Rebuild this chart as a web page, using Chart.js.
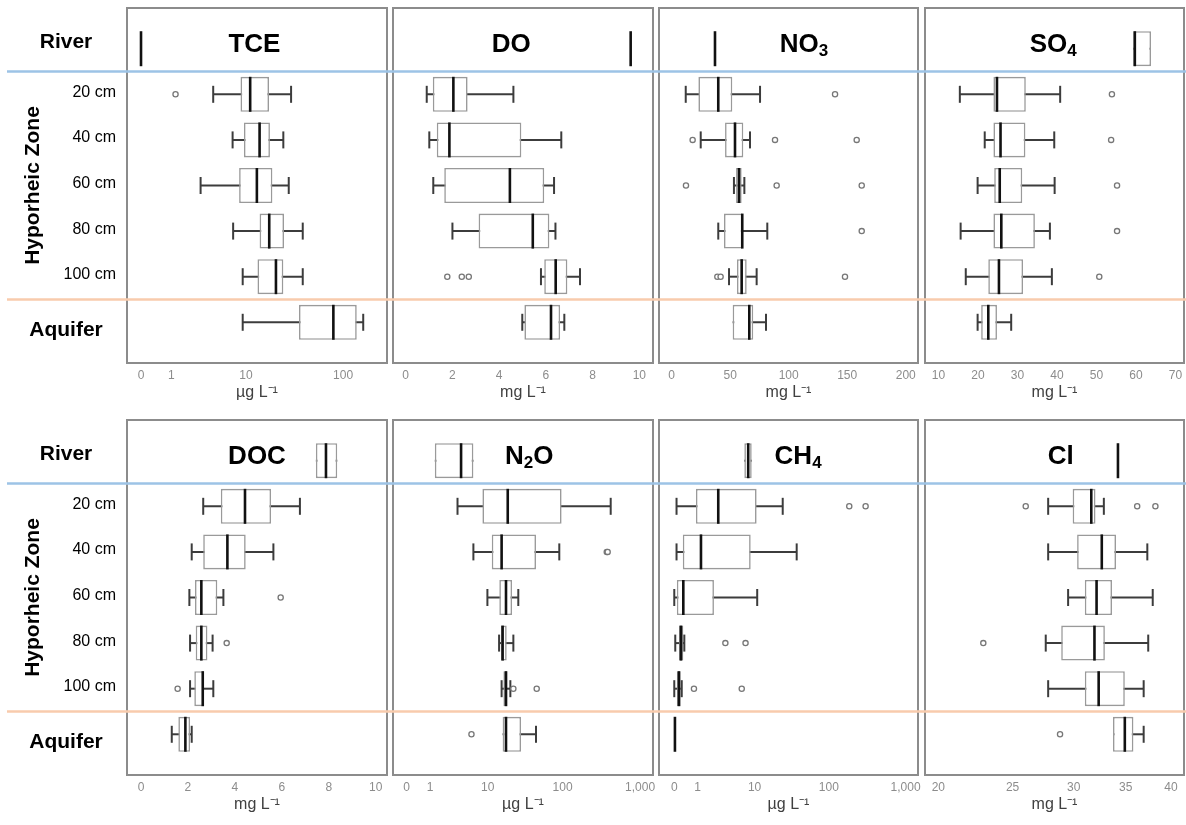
<!DOCTYPE html>
<html>
<head>
  <meta charset="UTF-8">
  <title>Hyporheic zone box plots</title>
  <script src="https://cdn.jsdelivr.net/npm/chart.js"></script>
  <style>
    body { margin: 0; background: #fff; }
    #wrap { position: relative; width: 1186px; height: 825px; overflow: hidden; }
    .cell { position: absolute; }
  </style>
</head>
<body>
  <div id="wrap"></div>

  <script>
    // rows, top to bottom
    var rowNames = ['River', '20 cm', '40 cm', '60 cm', '80 cm', '100 cm', 'Aquifer'];

    // each row: [lower whisker, Q1, median, Q3, upper whisker]
    var tceStats = [[0, 0, 0, 0, 0], [4.2, 8.7, 11.1, 17.6, 29.8], [7.1, 9.5, 14.0, 18.0, 24.8], [2.9, 8.4, 13.1, 19.1, 28.2], [7.2, 14.0, 17.7, 25.2, 39.2], [9.2, 13.3, 20.8, 24.8, 39.2], [9.2, 35.9, 79.9, 137, 159]];
    var tceOutliers = [[], [1.2], [], [], [], [], []];
    var tceTicks = [0, 1, 10, 100];
    var tceTickLabels = ['0', '1', '10', '100'];

    var doStats = [[9.63, 9.63, 9.63, 9.63, 9.63], [0.90, 1.16, 2.04, 2.65, 4.61], [1.01, 1.33, 1.87, 4.95, 6.66], [1.18, 1.65, 4.46, 5.93, 6.35], [2.0, 3.12, 5.44, 6.15, 6.41], [5.79, 5.93, 6.42, 6.92, 7.46], [4.99, 5.08, 6.22, 6.61, 6.79]];
    var doOutliers = [[], [], [], [], [], [1.78, 2.40, 2.70], []];
    var doTicks = [0, 2, 4, 6, 8, 10];
    var doTickLabels = ['0', '2', '4', '6', '8', '10'];

    var no3Stats = [[37, 37, 37, 37, 37], [12.0, 22.8, 39.8, 51.8, 75.5], [24.8, 45.6, 54.1, 61.2, 66.9], [53.2, 55.0, 57.5, 59.8, 62.1], [39.8, 44.7, 60.3, 60.5, 81.7], [49.0, 55.8, 59.8, 64.1, 72.6], [52.1, 52.1, 66.3, 69.7, 80.6]];
    var no3Outliers = [[], [139.6], [17.9, 88.3, 158.1], [12.2, 89.7, 162.4], [162.4], [39.0, 41.8, 148.1], []];
    var no3Ticks = [0, 50, 100, 150, 200];
    var no3TickLabels = ['0', '50', '100', '150', '200'];

    var so4Stats = [[59.3, 59.3, 59.7, 63.8, 63.8], [15.4, 23.9, 24.8, 32.1, 40.8], [21.7, 23.9, 25.7, 32.0, 39.3], [19.9, 24.1, 25.5, 31.2, 39.4], [15.6, 23.9, 25.9, 34.4, 38.2], [16.9, 22.6, 25.3, 31.4, 38.7], [19.9, 20.8, 22.6, 24.8, 28.4]];
    var so4Outliers = [[], [53.9], [53.7], [55.2], [55.2], [50.7], []];
    var so4Ticks = [10, 20, 30, 40, 50, 60, 70];
    var so4TickLabels = ['10', '20', '30', '40', '50', '60', '70'];

    var docStats = [[7.45, 7.45, 7.88, 8.36, 8.36], [2.65, 3.40, 4.43, 5.54, 6.77], [2.16, 2.65, 3.68, 4.46, 5.64], [2.06, 2.30, 2.57, 3.25, 3.51], [2.09, 2.33, 2.57, 2.83, 3.05], [2.09, 2.27, 2.63, 2.68, 3.08], [1.31, 1.59, 1.89, 2.09, 2.16]];
    var docOutliers = [[], [], [], [5.95], [3.65], [1.56], []];
    var docTicks = [0, 2, 4, 6, 8, 10];
    var docTickLabels = ['0', '2', '4', '6', '8', '10'];

    var n2oStats = [[1.3, 1.3, 4.0, 6.2, 6.2], [3.5, 8.4, 18.9, 97, 418], [6.2, 11.4, 15.6, 44.9, 90.5], [9.9, 14.5, 17.9, 21.6, 26.2], [14.4, 15.3, 16.1, 18.3, 22.5], [15.6, 16.5, 17.9, 18.6, 20.5], [16.1, 16.1, 17.9, 28.5, 44.9]];
    var n2oOutliers = [[], [], [372, 382], [], [], [22.5, 45.9], [5.8]];
    var n2oTicks = [0, 1, 10, 100, 1000];
    var n2oTickLabels = ['0', '1', '10', '100', '1,000'];

    var ch4Stats = [[7.1, 7.1, 8.1, 9.1, 9.1], [0.07, 0.91, 2.72, 10.7, 24.5], [0.07, 0.29, 1.22, 8.8, 37.7], [0.0, 0.08, 0.31, 2.27, 10.9], [0.03, 0.15, 0.22, 0.31, 0.35], [0.0, 0.08, 0.15, 0.21, 0.25], [0.02, 0.02, 0.02, 0.02, 0.02]];
    var ch4Outliers = [[], [185, 302], [], [], [3.6, 7.4], [0.80, 6.5], []];
    var ch4Ticks = [0, 1, 10, 100, 1000];
    var ch4TickLabels = ['0', '1', '10', '100', '1,000'];

    var clStats = [[34.2, 34.2, 34.2, 34.2, 34.2], [27.8, 29.9, 31.6, 32.0, 32.8], [27.8, 30.3, 32.6, 34.0, 37.3], [29.5, 31.0, 32.1, 33.6, 37.9], [27.6, 28.9, 31.9, 32.9, 37.4], [27.8, 31.0, 32.3, 34.9, 36.9], [33.7, 33.7, 34.9, 35.8, 36.9]];
    var clOutliers = [[], [26.0, 36.2, 38.2], [], [], [22.9], [], [28.8]];
    var clTicks = [20, 25, 30, 35, 40];
    var clTickLabels = ['20', '25', '30', '35', '40'];

    var FONT = '"Liberation Sans", Arial, sans-serif';
    Chart.defaults.font.family = FONT;

    // panel setup: title parts [text, subscript?], title x as share of width, axis range
    var panels = [
      { stats: tceStats, out: tceOutliers, ticks: tceTicks, labels: tceTickLabels, log: true, min: -0.139, max: 2.440, title: [['TCE', false]], tx: 0.49, unit: 'µg L⁻¹' },
      { stats: doStats, out: doOutliers, ticks: doTicks, labels: doTickLabels, log: false, min: -0.544, max: 10.586, title: [['DO', false]], tx: 0.455, unit: 'mg L⁻¹' },
      { stats: no3Stats, out: no3Outliers, ticks: no3Ticks, labels: no3TickLabels, log: false, min: -10.85, max: 210.5, title: [['NO', false], ['3', true]], tx: 0.56, unit: 'mg L⁻¹' },
      { stats: so4Stats, out: so4Outliers, ticks: so4Ticks, labels: so4TickLabels, log: false, min: 6.58, max: 72.15, title: [['SO', false], ['4', true]], tx: 0.495, unit: 'mg L⁻¹' },
      { stats: docStats, out: docOutliers, ticks: docTicks, labels: docTickLabels, log: false, min: -0.597, max: 10.48, title: [['DOC', false]], tx: 0.5, unit: 'mg L⁻¹' },
      { stats: n2oStats, out: n2oOutliers, ticks: n2oTicks, labels: n2oTickLabels, log: true, min: -0.176, max: 3.166, title: [['N', false], ['2', true], ['O', false]], tx: 0.524, unit: 'µg L⁻¹' },
      { stats: ch4Stats, out: ch4Outliers, ticks: ch4Ticks, labels: ch4TickLabels, log: true, min: -0.198, max: 3.161, title: [['CH', false], ['4', true]], tx: 0.537, unit: 'µg L⁻¹' },
      { stats: clStats, out: clOutliers, ticks: clTicks, labels: clTickLabels, log: true, min: 1.3056, max: 1.6290, title: [['Cl', false]], tx: 0.524, unit: 'mg L⁻¹' }
    ];

    // canvas slots in each row
    var cols = [
      { left: 0, width: 390, padL: 0, padR: 3, first: true },
      { left: 390, width: 266, padL: 3, padR: 3, first: false },
      { left: 656, width: 265, padL: 3, padR: 3, first: false },
      { left: 921, width: 265, padL: 4, padR: 2, first: false }
    ];
    var rowTops = [0, 412];
    var cellH = 404;

    function decor(p, col) {
      return {
        id: 'decor',
        beforeDatasetsDraw: function (chart) {
          var ctx = chart.ctx, a = chart.chartArea;
          ctx.save();
          ctx.strokeStyle = '#8c8c8c';
          ctx.lineWidth = 2;
          ctx.strokeRect(a.left, a.top, a.right - a.left, a.bottom - a.top);
          ctx.restore();
        },
        afterDraw: function (chart) {
          var ctx = chart.ctx, a = chart.chartArea, ys = chart.scales.y;
          ctx.save();

          // panel title with subscripts
          var mainFont = 'bold 26px ' + FONT, subFont = 'bold 17px ' + FONT;
          var total = 0;
          p.title.forEach(function (t) {
            ctx.font = t[1] ? subFont : mainFont;
            total += ctx.measureText(t[0]).width;
          });
          var x = a.left + p.tx * (a.right - a.left) - total / 2;
          var base = a.top + 43.5;
          ctx.fillStyle = '#000';
          ctx.textAlign = 'left';
          ctx.textBaseline = 'alphabetic';
          p.title.forEach(function (t) {
            ctx.font = t[1] ? subFont : mainFont;
            ctx.fillText(t[0], x, t[1] ? base + 4 : base);
            x += ctx.measureText(t[0]).width;
          });

          // zone separators
          [[0.5, '#9dc3e6'], [rowNames.length - 1.5, '#f8cbad']].forEach(function (s) {
            var py = ys.getPixelForValue(s[0]);
            ctx.strokeStyle = s[1];
            ctx.lineWidth = 2.5;
            ctx.beginPath();
            ctx.moveTo(col.first ? 7 : 0, py);
            ctx.lineTo(chart.width, py);
            ctx.stroke();
          });

          // row names at the left
          if (col.first) {
            ctx.textBaseline = 'middle';
            rowNames.forEach(function (name, i) {
              var py = ys.getPixelForValue(i);
              if (i === 0 || i === rowNames.length - 1) {
                ctx.font = 'bold 21px ' + FONT;
                ctx.textAlign = 'center';
                ctx.fillText(name, 66, py + (i === 0 ? -7 : 8));
              } else {
                ctx.font = '16px ' + FONT;
                ctx.textAlign = 'right';
                ctx.fillText(name, 116, py - 2);
              }
            });
          }
          ctx.restore();
        }
      };
    }

    function makePanel(p, k) {
      var col = cols[k % 4];
      var top = rowTops[Math.floor(k / 4)];
      var tf = p.log ? function (v) { return Math.log10(v + 1); } : function (v) { return v; };

      var cell = document.createElement('div');
      cell.className = 'cell';
      cell.style.left = col.left + 'px';
      cell.style.top = top + 'px';
      cell.style.width = col.width + 'px';
      cell.style.height = cellH + 'px';
      var canvas = document.createElement('canvas');
      cell.appendChild(canvas);
      document.getElementById('wrap').appendChild(cell);

      var whiskers = p.stats.map(function (s, i) { return { x: [tf(s[0]), tf(s[4])], y: i }; });
      var boxes = p.stats.map(function (s, i) { return { x: [tf(s[1]), tf(s[3])], y: i }; });
      var medians = p.stats.map(function (s, i) { return { x: tf(s[2]), y: i }; });
      var caps = [];
      p.stats.forEach(function (s, i) {
        if (s[0] < s[1]) caps.push({ x: tf(s[0]), y: i });
        if (s[4] > s[3]) caps.push({ x: tf(s[4]), y: i });
      });
      var outs = [];
      p.out.forEach(function (arr, i) {
        arr.forEach(function (v) { outs.push({ x: tf(v), y: i }); });
      });

      new Chart(canvas.getContext('2d'), {
        type: 'bar',
        data: {
          datasets: [
            { type: 'bar', indexAxis: 'y', data: whiskers, stack: 'b', order: 5, barThickness: 2, backgroundColor: '#3c3c3c', borderWidth: 0, inflateAmount: 0 },
            { type: 'bar', indexAxis: 'y', data: boxes, stack: 'b', order: 4, barThickness: 35, backgroundColor: '#ffffff', borderColor: '#9a9a9a', borderWidth: 1.6, borderSkipped: false, inflateAmount: 0 },
            { type: 'scatter', data: caps, order: 3, pointStyle: 'line', rotation: 90, radius: 8.5, hoverRadius: 8.5, borderWidth: 2, borderColor: '#3c3c3c' },
            { type: 'scatter', data: medians, order: 2, pointStyle: 'line', rotation: 90, radius: 17.5, hoverRadius: 17.5, borderWidth: 2.6, borderColor: '#111111' },
            { type: 'scatter', data: outs, order: 1, pointStyle: 'circle', radius: 2.6, hoverRadius: 2.6, borderWidth: 1.3, borderColor: '#777777', backgroundColor: '#ffffff' }
          ]
        },
        options: {
          responsive: true,
          maintainAspectRatio: false,
          animation: false,
          events: [],
          layout: { autoPadding: false, padding: { left: col.padL, right: col.padR, top: 8, bottom: 2 } },
          plugins: { legend: { display: false }, tooltip: { enabled: false } },
          scales: {
            x: {
              type: 'linear',
              min: p.min,
              max: p.max,
              offset: false,
              stacked: false,
              beginAtZero: false,
              grace: 0,
              grid: { display: false, drawTicks: false, offset: false },
              border: { display: false },
              afterBuildTicks: function (s) {
                s.ticks = p.ticks.map(function (v) { return { value: tf(v) }; });
              },
              ticks: {
                autoSkip: false,
                maxRotation: 0,
                padding: 5,
                color: '#8c8c8c',
                font: { size: 12 },
                callback: function (v, i) { return p.labels[i]; }
              },
              title: { display: true, text: p.unit, color: '#404040', font: { size: 16 }, padding: { top: 0, bottom: 0 } },
              afterFit: function (s) {
                s.height = 39;
                s.paddingLeft = 0;
                s.paddingRight = 0;
              }
            },
            y: {
              type: 'linear',
              min: -0.893,
              max: rowNames.length - 1 + 0.893,
              reverse: true,
              offset: false,
              display: col.first,
              grid: { display: false, drawTicks: false, offset: false },
              border: { display: false },
              ticks: { display: false },
              title: { display: true, text: 'Hyporheic Zone', color: '#000', font: { size: 21, weight: 'bold' }, padding: { top: 21, bottom: 0 } },
              afterFit: function (s) { s.width = col.first ? 127 : 0; }
            }
          }
        },
        plugins: [decor(p, col)]
      });
    }

    panels.forEach(makePanel);
  </script>
</body>
</html>
